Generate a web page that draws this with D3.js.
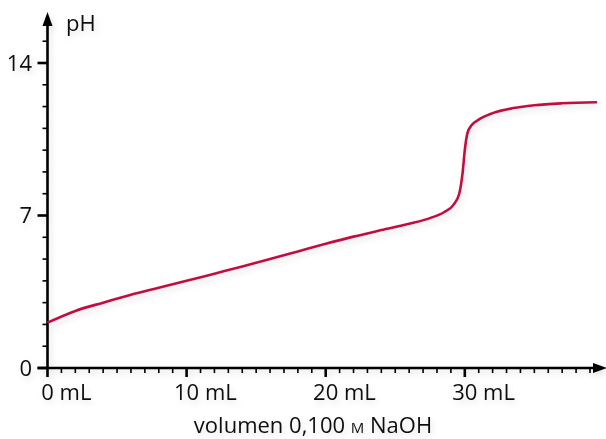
<!DOCTYPE html>
<html>
<head>
<meta charset="utf-8">
<script src="https://cdn.jsdelivr.net/npm/d3@7"></script>
<style>
  body { margin: 0; background: #fff; }
  svg text { font-family: "Open Sans", Lato, sans-serif; fill: #111; }
</style>
</head>
<body>
<svg id="chart" width="606" height="439"></svg>
<script>
// titration curve
var volume = [0, 2, 4, 6, 8, 10, 12, 14, 16, 18, 20, 22, 24, 26, 27.5, 28.5, 29.2, 29.6, 29.85, 30.0, 30.2, 30.5, 31, 32, 33.5, 35, 37, 39.5];
var pH = [2.08, 2.62, 3.0, 3.36, 3.68, 4.0, 4.33, 4.66, 5.0, 5.35, 5.7, 6.03, 6.33, 6.62, 6.88, 7.15, 7.5, 8.0, 9.0, 10.0, 10.8, 11.15, 11.4, 11.7, 11.93, 12.06, 12.15, 12.2];
var xMajor = [0, 10, 20, 30];
var yMajor = [0, 7, 14];

var svg, defs, g, x, y, line, data, minorX, minorY;

svg = d3.select("#chart");
defs = svg.append("defs");
defs.append("filter")
    .attr("id", "shadow")
    .attr("x", "-20%").attr("y", "-20%")
    .attr("width", "140%").attr("height", "140%")
    .append("feDropShadow")
    .attr("dx", 2).attr("dy", 3)
    .attr("stdDeviation", 3)
    .attr("flood-color", "#000")
    .attr("flood-opacity", 0.12);

x = d3.scaleLinear().domain([0, 10]).range([47.5, 186.6]);
y = d3.scaleLinear().domain([0, 14]).range([368, 63]);

g = svg.append("g").attr("filter", "url(#shadow)");

minorX = d3.range(0, 40);
minorY = d3.range(0, 16);

// y axis
g.append("line")
    .attr("x1", x(0)).attr("x2", x(0))
    .attr("y1", y(0) + 1).attr("y2", 24)
    .attr("stroke", "#000").attr("stroke-width", 2.6);
g.append("path")
    .attr("d", "M" + x(0) + ",12 L" + (x(0) - 5) + ",26 L" + (x(0) + 5) + ",26 Z")
    .attr("fill", "#000");

g.selectAll(".ytick").data(minorY).enter().append("line")
    .attr("x1", function (d) { return x(0) - (yMajor.indexOf(d) >= 0 ? 10 : 5); })
    .attr("x2", x(0))
    .attr("y1", function (d) { return y(d); })
    .attr("y2", function (d) { return y(d); })
    .attr("stroke", "#000")
    .attr("stroke-width", function (d) { return yMajor.indexOf(d) >= 0 ? 2.6 : 1.6; });

g.selectAll(".ylab").data(yMajor).enter().append("text")
    .attr("x", 32)
    .attr("y", function (d) { return y(d); })
    .attr("dy", "0.36em")
    .attr("text-anchor", "end")
    .attr("font-size", 22)
    .text(function (d) { return d; });

g.append("text")
    .attr("x", 66).attr("y", 31)
    .attr("font-size", 22)
    .text("pH");

// x axis
g.append("line")
    .attr("x1", x(0) - 10).attr("x2", 596)
    .attr("y1", y(0)).attr("y2", y(0))
    .attr("stroke", "#000").attr("stroke-width", 2.6);
g.append("path")
    .attr("d", "M607," + y(0) + " L593," + (y(0) - 5) + " L593," + (y(0) + 5) + " Z")
    .attr("fill", "#000");

g.selectAll(".xtick").data(minorX).enter().append("line")
    .attr("x1", function (d) { return x(d); })
    .attr("x2", function (d) { return x(d); })
    .attr("y1", y(0))
    .attr("y2", function (d) { return y(0) + (xMajor.indexOf(d) >= 0 ? 9 : 5); })
    .attr("stroke", "#000")
    .attr("stroke-width", function (d) { return xMajor.indexOf(d) >= 0 ? 2.6 : 1.6; });

g.selectAll(".xlab").data(xMajor).enter().append("text")
    .attr("y", 400)
    .attr("font-size", 22)
    .each(function (d) {
        var t = d3.select(this), num, w;
        num = t.append("tspan").text(d);
        w = num.node().getComputedTextLength();
        t.append("tspan").text(" mL");
        t.attr("x", x(d) - w / 2);
    });

var xt = g.append("text")
    .attr("x", 313).attr("y", 433)
    .attr("text-anchor", "middle")
    .attr("font-size", 22);
xt.append("tspan").text("volumen 0,100 ");
xt.append("tspan").attr("font-size", 15).text("M");
xt.append("tspan").text(" NaOH");

// curve
data = volume.map(function (v, i) { return [v, pH[i]]; });
line = d3.line()
    .x(function (d) { return x(d[0]); })
    .y(function (d) { return y(d[1]); })
    .curve(d3.curveMonotoneX);

g.append("path")
    .datum(data)
    .attr("d", line)
    .attr("fill", "none")
    .attr("stroke", "#c2103f")
    .attr("stroke-width", 2.6);
</script>
</body>
</html>
